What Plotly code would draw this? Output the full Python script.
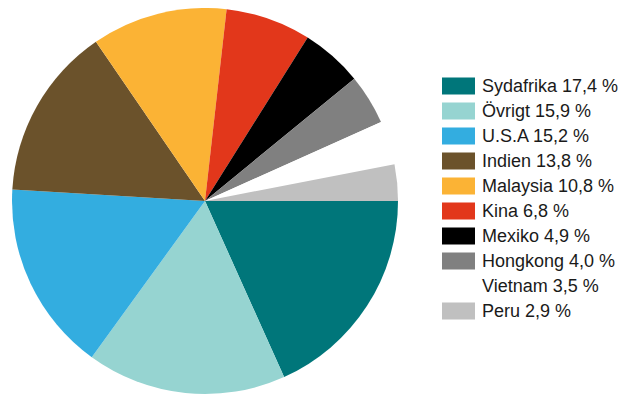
import plotly.graph_objects as go

countries = ["Sydafrika", "Övrigt", "U.S.A", "Indien", "Malaysia", "Kina",
             "Mexiko", "Hongkong", "Vietnam", "Peru"]
shares = [17.4, 15.9, 15.2, 13.8, 10.8, 6.8, 4.9, 4.0, 3.5, 2.9]
colors = ["#00767a", "#96d4d1", "#33ade0", "#6b522b", "#fbb335", "#e2371b",
          "#000000", "#808080", "#ffffff", "#c0c0c0"]

W, H = 628, 394

fig = go.Figure(go.Pie(
    labels=countries,
    values=shares,
    marker=dict(colors=colors, line=dict(width=0)),
    sort=False,
    direction="clockwise",
    rotation=90,
    textinfo="none",
    hoverinfo="label+value",
    domain=dict(x=[3 / W, 391 / W], y=[8 / H, 1]),
    showlegend=False,
))

# hand-made legend with large swatches (page body adds an 8px offset)
font = dict(family="Liberation Sans, Arial, sans-serif", size=18, color="#1a1a1a")
for i, (name, val, col) in enumerate(zip(countries, shares, colors)):
    yc = 78 + i * 25
    if col != "#ffffff":
        fig.add_shape(type="rect", xref="paper", yref="paper",
                      x0=434 / W, x1=467 / W,
                      y0=1 - (yc + 8.5) / H, y1=1 - (yc - 8.5) / H,
                      fillcolor=col, line=dict(width=0))
    label = name + " " + f"{val:.1f}".replace(".", ",") + " %"
    fig.add_annotation(xref="paper", yref="paper", x=472 / W, y=1 - yc / H,
                       xanchor="left", yanchor="middle", text=label,
                       showarrow=False, font=font)

fig.update_layout(
    width=W, height=H,
    margin=dict(l=0, r=0, t=0, b=0),
    paper_bgcolor="white",
    plot_bgcolor="white",
)

fig.write_html("out.html")
